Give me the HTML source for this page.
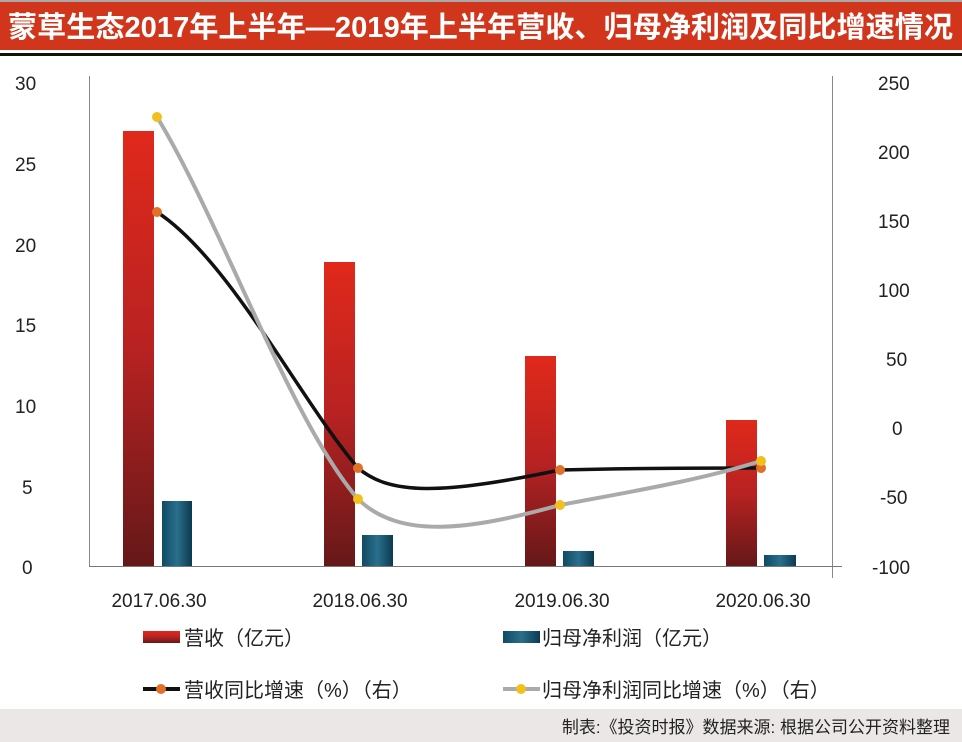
<!DOCTYPE html>
<html><head><meta charset="utf-8"><style>
body{margin:0;background:#fff;}
svg{display:block;font-family:"Liberation Sans","Noto Sans CJK SC",sans-serif;}
</style></head><body>
<svg width="962" height="742" viewBox="0 0 962 742">
<defs>
<linearGradient id="rg" x1="0" y1="0" x2="0" y2="1"><stop offset="0" stop-color="#e0291b"/><stop offset="0.5" stop-color="#b82222"/><stop offset="1" stop-color="#651819"/></linearGradient>
<linearGradient id="tg" x1="0" y1="0" x2="1" y2="0"><stop offset="0" stop-color="#0f4a63"/><stop offset="0.5" stop-color="#2a6f8c"/><stop offset="1" stop-color="#0c3a50"/></linearGradient>
</defs>
<rect x="0" y="0" width="962" height="2" fill="#aaa"/>
<rect x="0" y="2" width="962" height="48" fill="#d1361c"/>
<text x="8" y="37" font-size="29" font-weight="bold" fill="#fff" textLength="945" lengthAdjust="spacingAndGlyphs">蒙草生态2017年上半年—2019年上半年营收、归母净利润及同比增速情况</text>
<rect x="0" y="53" width="962" height="3" fill="#111"/>
<g font-size="19" fill="#222">
<text x="15" y="90">30</text><text x="15" y="171">25</text><text x="15" y="252">20</text><text x="15" y="332">15</text><text x="15" y="413">10</text><text x="22" y="494">5</text><text x="22" y="574">0</text>
<text x="878" y="90">250</text><text x="878" y="159">200</text><text x="878" y="228">150</text><text x="878" y="297">100</text><text x="886" y="366">50</text><text x="892" y="435">0</text><text x="880" y="504">-50</text><text x="872" y="574">-100</text>
</g>
<line x1="89.5" y1="76" x2="89.5" y2="567" stroke="#888"/>
<line x1="832.5" y1="76" x2="832.5" y2="578" stroke="#888"/>
<line x1="89" y1="566.5" x2="842" y2="566.5" stroke="#777"/>
<rect x="123" y="131" width="31" height="435" fill="url(#rg)"/>
<rect x="324" y="262" width="31" height="304" fill="url(#rg)"/>
<rect x="525" y="356" width="31" height="210" fill="url(#rg)"/>
<rect x="726" y="420" width="31" height="146" fill="url(#rg)"/>
<rect x="162" y="501" width="30" height="65" fill="url(#tg)"/>
<rect x="362" y="535" width="31" height="31" fill="url(#tg)"/>
<rect x="563" y="551" width="31" height="15" fill="url(#tg)"/>
<rect x="764" y="555" width="32" height="11" fill="url(#tg)"/>
<path d="M157,212 C230,260 300,400 358,468 C390,495 440,495 560,470 C640,468 700,468 761,468" fill="none" stroke="#111" stroke-width="3.5"/>
<path d="M157,117 C220,220 290,420 358,499 C400,540 470,530 560,505 C640,490 700,480 761,461" fill="none" stroke="#aaa" stroke-width="4"/>
<g fill="#e0702a"><circle cx="157" cy="212" r="5"/><circle cx="358" cy="468" r="5"/><circle cx="560" cy="470" r="5"/><circle cx="761" cy="468" r="5"/></g>
<g fill="#f2c01a"><circle cx="157" cy="117" r="5"/><circle cx="358" cy="499" r="5"/><circle cx="560" cy="505" r="5"/><circle cx="761" cy="461" r="5"/></g>
<g font-size="19" fill="#222" text-anchor="middle">
<text x="159" y="607">2017.06.30</text><text x="360" y="607">2018.06.30</text><text x="562" y="607">2019.06.30</text><text x="763" y="607">2020.06.30</text>
</g>
<rect x="143" y="631" width="37" height="12" fill="url(#rg)"/>
<rect x="503" y="631" width="37" height="12" fill="url(#tg)"/>
<line x1="143" y1="689" x2="180" y2="689" stroke="#111" stroke-width="4"/><circle cx="161" cy="689" r="5" fill="#e0702a"/>
<line x1="503" y1="689" x2="540" y2="689" stroke="#aaa" stroke-width="4"/><circle cx="521" cy="689" r="5" fill="#f2c01a"/>
<g font-size="20" fill="#222">
<text x="184" y="645">营收（亿元）</text>
<text x="542" y="645">归母净利润（亿元）</text>
<text x="184" y="697">营收同比增速（%）（右）</text>
<text x="542" y="697">归母净利润同比增速（%）（右）</text>
</g>
<rect x="0" y="709" width="962" height="33" fill="#ebe7e6"/>
<text x="950" y="733" font-size="17" fill="#222" text-anchor="end">制表:《投资时报》数据来源: 根据公司公开资料整理</text>
</svg>
</body></html>
